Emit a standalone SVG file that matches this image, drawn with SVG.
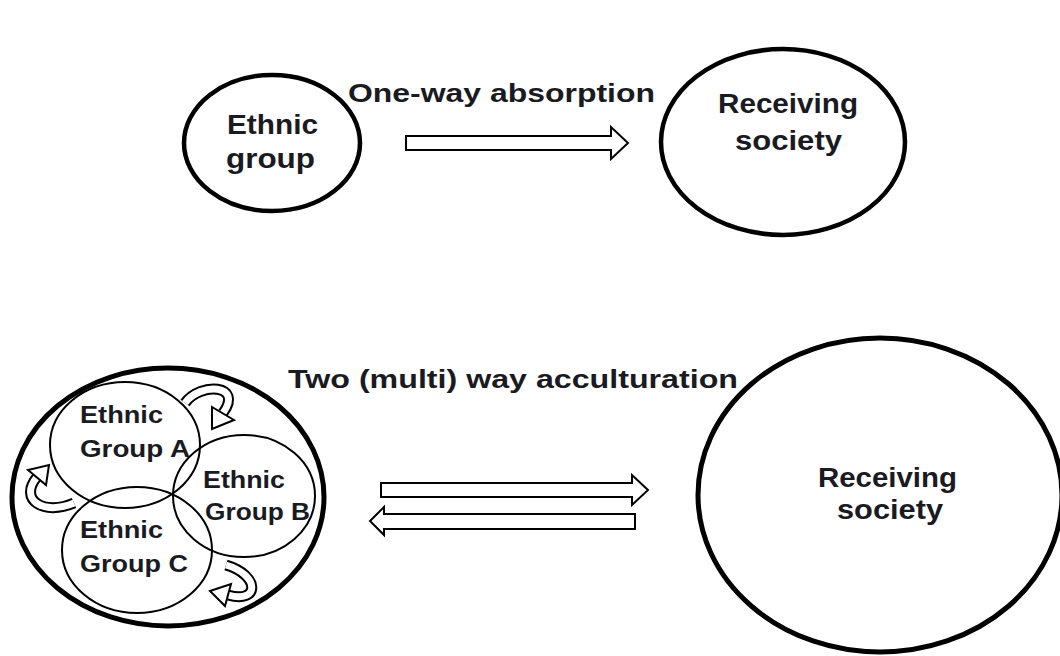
<svg xmlns="http://www.w3.org/2000/svg" width="1060" height="656" viewBox="0 0 1060 656">
<style>
.t{font-family:"Liberation Sans","Noto Sans",sans-serif;font-weight:bold;fill:#1a1a22}
.big{font-size:25px}
.mid{font-size:27px}
.sm{font-size:23px}
.node{fill:#fff;stroke:#000}
.blk{fill:#fff;stroke:#000;stroke-width:2;stroke-linejoin:miter}
.cb{fill:none;stroke:#000;stroke-width:11}
.cw{fill:none;stroke:#fff;stroke-width:7}
</style>
<rect width="1060" height="656" fill="#fff"/>

<g id="label-top">
<text class="t big" x="348" y="102" textLength="307" lengthAdjust="spacingAndGlyphs">One-way absorption</text>
</g>
<g id="label-bottom">
<text class="t big" x="288" y="388" textLength="450" lengthAdjust="spacingAndGlyphs">Two (multi) way acculturation</text>
</g>

<g id="ethnic-group">
<ellipse class="node" cx="272" cy="143" rx="88" ry="68" stroke-width="4.5"/>
<text class="t mid" x="227" y="134" textLength="91" lengthAdjust="spacingAndGlyphs">Ethnic</text>
<text class="t mid" x="226" y="168" textLength="89" lengthAdjust="spacingAndGlyphs">group</text>
</g>

<g id="receiving-society-top">
<ellipse class="node" cx="783" cy="142" rx="122" ry="93" stroke-width="4.5"/>
<text class="t mid" x="718" y="113" textLength="140" lengthAdjust="spacingAndGlyphs">Receiving</text>
<text class="t mid" x="735" y="150" textLength="107" lengthAdjust="spacingAndGlyphs">society</text>
</g>

<g id="ethnic-groups">
<ellipse class="node" cx="168" cy="497" rx="156" ry="129" stroke-width="5"/>
<g id="group-a">
<ellipse cx="125" cy="445" rx="75" ry="63" fill="none" stroke="#000" stroke-width="2"/>
</g>
<g id="group-b">
<ellipse cx="244" cy="496" rx="71" ry="61" fill="none" stroke="#000" stroke-width="2"/>
</g>
<g id="group-c">
<ellipse cx="137" cy="550" rx="75" ry="63" fill="none" stroke="#000" stroke-width="2"/>
</g>
<text class="t sm" x="80" y="423" textLength="83" lengthAdjust="spacingAndGlyphs">Ethnic</text>
<text class="t sm" x="80" y="457" textLength="110" lengthAdjust="spacingAndGlyphs">Group A</text>
<text class="t sm" x="203" y="488" textLength="82" lengthAdjust="spacingAndGlyphs">Ethnic</text>
<text class="t sm" x="205" y="520" textLength="105" lengthAdjust="spacingAndGlyphs">Group B</text>
<text class="t sm" x="80" y="538" textLength="83" lengthAdjust="spacingAndGlyphs">Ethnic</text>
<text class="t sm" x="80" y="572" textLength="108" lengthAdjust="spacingAndGlyphs">Group C</text>
</g>

<g id="receiving-society-bottom">
<ellipse class="node" cx="880" cy="495" rx="182" ry="157" stroke-width="5"/>
<text class="t mid" x="818" y="487" textLength="139" lengthAdjust="spacingAndGlyphs">Receiving</text>
<text class="t mid" x="837" y="519" textLength="106" lengthAdjust="spacingAndGlyphs">society</text>
</g>

<g id="connectors">
<polygon class="blk" points="406,136 611,136 611,127 628,143 611,159 611,150 406,150"/>
<polygon class="blk" points="381,483 632,483 632,475 648,490 632,505 632,497 381,497"/>
<polygon class="blk" points="635,514 384,514 384,507 370,521 384,535 384,529 635,529"/>
<path class="cb" d="M185 403 C200 382 244 384 223 413"/>
<path class="cw" d="M185 403 C200 382 244 384 223 413"/>
<polygon class="blk" points="212,407 234,420 212,429"/>
<path class="cb" d="M74 503 C44 516 18 500 37 477"/>
<path class="cw" d="M74 503 C44 516 18 500 37 477"/>
<polygon class="blk" points="28,470 46,485 49,465"/>
<path class="cb" d="M226 565 C260 575 260 604 228 595"/>
<path class="cw" d="M226 565 C260 575 260 604 228 595"/>
<polygon class="blk" points="231,584 225,606 210,591"/>
</g>
</svg>
